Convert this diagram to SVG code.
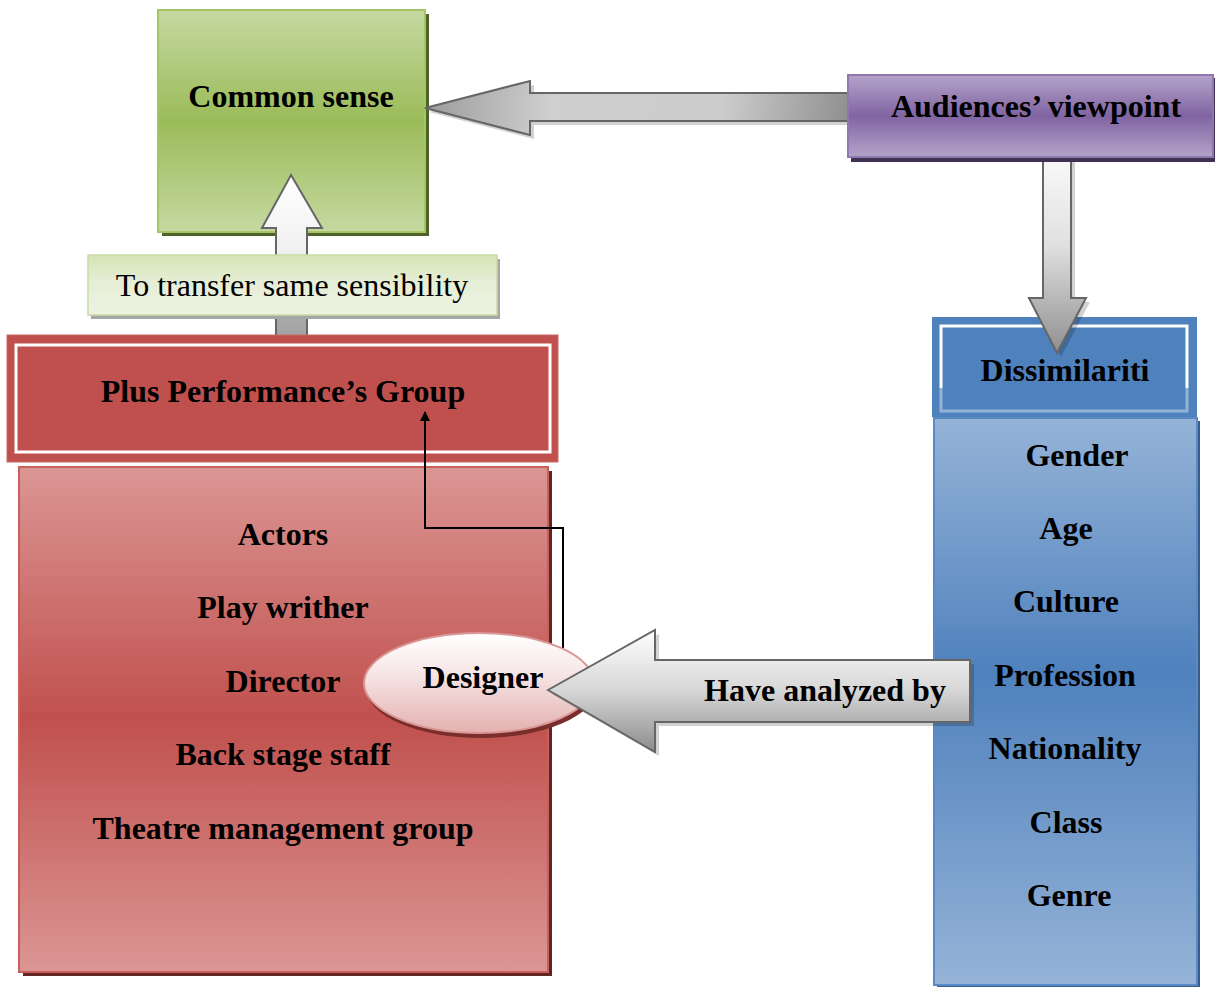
<svg xmlns="http://www.w3.org/2000/svg" width="1215" height="987" viewBox="0 0 1215 987">
<defs>
<linearGradient id="gGreen" x1="0" y1="0" x2="0" y2="1"><stop offset="0" stop-color="#c5d9a0"/><stop offset="0.5" stop-color="#9bbb59"/><stop offset="1" stop-color="#c5d9a0"/></linearGradient>
<linearGradient id="gLabel" x1="0" y1="0" x2="0" y2="1"><stop offset="0" stop-color="#d4e4b4"/><stop offset="0.45" stop-color="#e6eed6"/><stop offset="1" stop-color="#edf2e2"/></linearGradient>
<linearGradient id="gPurple" x1="0" y1="0" x2="0" y2="1"><stop offset="0" stop-color="#b4a3c9"/><stop offset="0.5" stop-color="#8064a2"/><stop offset="1" stop-color="#b4a3c9"/></linearGradient>
<linearGradient id="gRed" x1="0" y1="0" x2="0" y2="1"><stop offset="0" stop-color="#db9694"/><stop offset="0.5" stop-color="#c0504d"/><stop offset="1" stop-color="#db9694"/></linearGradient>
<linearGradient id="gBlue" x1="0" y1="0" x2="0" y2="1"><stop offset="0" stop-color="#95b3d7"/><stop offset="0.45" stop-color="#4f81bd"/><stop offset="1" stop-color="#95b3d7"/></linearGradient>
<linearGradient id="gEll" x1="0" y1="0" x2="0" y2="1"><stop offset="0" stop-color="#ffffff"/><stop offset="0.4" stop-color="#f7e6e6"/><stop offset="1" stop-color="#e4b0af"/></linearGradient>
<linearGradient id="gUp" gradientUnits="userSpaceOnUse" x1="0" y1="175" x2="0" y2="345"><stop offset="0" stop-color="#ffffff"/><stop offset="0.45" stop-color="#f0f0f0"/><stop offset="0.85" stop-color="#a8a8a8"/><stop offset="1" stop-color="#a0a0a0"/></linearGradient>
<linearGradient id="gLeft" gradientUnits="userSpaceOnUse" x1="425" y1="80" x2="848" y2="135"><stop offset="0" stop-color="#9a9a9a"/><stop offset="0.3" stop-color="#cfcfcf"/><stop offset="0.7" stop-color="#cccccc"/><stop offset="1" stop-color="#8f8f8f"/></linearGradient>
<linearGradient id="gDown" gradientUnits="userSpaceOnUse" x1="0" y1="138" x2="0" y2="353"><stop offset="0" stop-color="#ffffff"/><stop offset="0.5" stop-color="#e0e0e0"/><stop offset="1" stop-color="#8f8f8f"/></linearGradient>
<linearGradient id="gHave" gradientUnits="userSpaceOnUse" x1="0" y1="630" x2="0" y2="752"><stop offset="0" stop-color="#ffffff"/><stop offset="0.5" stop-color="#d6d6d6"/><stop offset="1" stop-color="#8c8c8c"/></linearGradient>
<marker id="ah" markerWidth="10" markerHeight="10" refX="9" refY="5" orient="auto" markerUnits="userSpaceOnUse"><path d="M0,0 L10,5 L0,10 z" fill="#000"/></marker>
</defs>
<style>
.b{font-family:"Liberation Serif","Times New Roman",serif;font-weight:bold;font-size:32px;fill:#000;text-anchor:middle}
.r{font-family:"Liberation Serif","Times New Roman",serif;font-size:32px;fill:#000;text-anchor:middle}
.arr{stroke:#666666;stroke-width:2;stroke-linejoin:miter}
.sh{fill:#000;opacity:0.18}
</style>
<rect width="1215" height="987" fill="#ffffff"/>

<g id="common-sense">
<rect x="162" y="14" width="267" height="222" fill="#4f6228"/>
<rect x="158" y="10" width="267" height="222" fill="url(#gGreen)" stroke="#a5c466" stroke-width="2"/>
<text class="b" x="291" y="107">Common sense</text>
</g>

<g id="dissimilariti">
<rect x="932" y="317" width="265" height="100" fill="#4f81bd"/>
<polyline points="941,388 941,326 1187,326 1187,388" fill="none" stroke="#ffffff" stroke-width="3"/>
<polyline points="941,388 941,411 1187,411 1187,388" fill="none" stroke="#95b3d7" stroke-width="3"/>
<text class="b" x="1065" y="381">Dissimilariti</text>
</g>

<g id="connectors">
<path d="M276,228 L262,228 L291,175 L322,228 L307,228 L307,348 L276,348 Z" fill="url(#gUp)" class="arr"/>
<path class="sh" d="M429,112 L534,85 L534,97 L852,97 L852,125 L534,125 L534,139 Z"/>
<path d="M425,108 L530,81 L530,93 L849,93 L849,121 L530,121 L530,135 Z" fill="url(#gLeft)" class="arr"/>
<path class="sh" d="M1047,142 L1075,142 L1075,302 L1090,302 L1061,357 L1033,302 L1047,302 Z"/>
<path d="M1043,138 L1071,138 L1071,298 L1086,298 L1057,353 L1029,298 L1043,298 Z" fill="url(#gDown)" class="arr"/>
</g>

<g id="transfer-label">
<rect x="91" y="259" width="409" height="60" fill="#a6a6a6"/>
<rect x="88" y="255" width="409" height="60" fill="url(#gLabel)" stroke="#c9dba6" stroke-width="1.5"/>
<text class="r" x="292" y="296">To transfer same sensibility</text>
</g>

<g id="audiences">
<rect x="851" y="78" width="365" height="84" fill="#3f3151"/>
<rect x="848" y="75" width="365" height="82" fill="url(#gPurple)" stroke="#9077b0" stroke-width="2"/>
<text class="b" x="1036" y="117">Audiences’ viewpoint</text>
</g>

<g id="blue-list">
<rect x="937" y="421" width="263" height="567" fill="#385d8a"/>
<rect x="934" y="418" width="263" height="567" fill="url(#gBlue)" stroke="#5a8ac6" stroke-width="2"/>
<text class="b" x="1077" y="466">Gender</text>
<text class="b" x="1066" y="539">Age</text>
<text class="b" x="1066" y="612">Culture</text>
<text class="b" x="1065" y="686">Profession</text>
<text class="b" x="1065" y="759">Nationality</text>
<text class="b" x="1066" y="833">Class</text>
<text class="b" x="1069" y="906">Genre</text>
</g>

<g id="plus-group">
<rect x="7" y="335" width="551" height="127" fill="#c0504d" stroke="#c86866" stroke-width="1"/>
<rect x="16" y="345" width="534" height="107" fill="none" stroke="#ffffff" stroke-width="3"/>
<text class="b" x="283" y="402">Plus Performance’s Group</text>
</g>

<g id="red-list">
<rect x="23" y="471" width="529" height="505" fill="#632523"/>
<rect x="19" y="467" width="529" height="505" fill="url(#gRed)" stroke="#c8605d" stroke-width="2"/>
<text class="b" x="283" y="545">Actors</text>
<text class="b" x="283" y="618">Play writher</text>
<text class="b" x="283" y="692">Director</text>
<text class="b" x="283" y="765">Back stage staff</text>
<text class="b" x="283" y="839">Theatre management group</text>
</g>

<g id="connector-designer">
<polyline points="563,648 563,528 425,528 425,412" fill="none" stroke="#000" stroke-width="2" marker-end="url(#ah)"/>
</g>

<g id="designer">
<ellipse cx="481" cy="688" rx="115" ry="50" fill="#7a2e2c"/>
<ellipse cx="479" cy="683" rx="115" ry="50" fill="url(#gEll)" stroke="#d99694" stroke-width="2"/>
<text class="b" x="483" y="688">Designer</text>
</g>

<g id="have-analyzed">
<path class="sh" d="M552,694 L659,634 L659,664 L974,664 L974,726 L659,726 L659,756 Z"/>
<path d="M548,690 L655,630 L655,660 L970,660 L970,722 L655,722 L655,752 Z" fill="url(#gHave)" class="arr"/>
<text class="b" x="825" y="701">Have analyzed by</text>
</g>
</svg>
